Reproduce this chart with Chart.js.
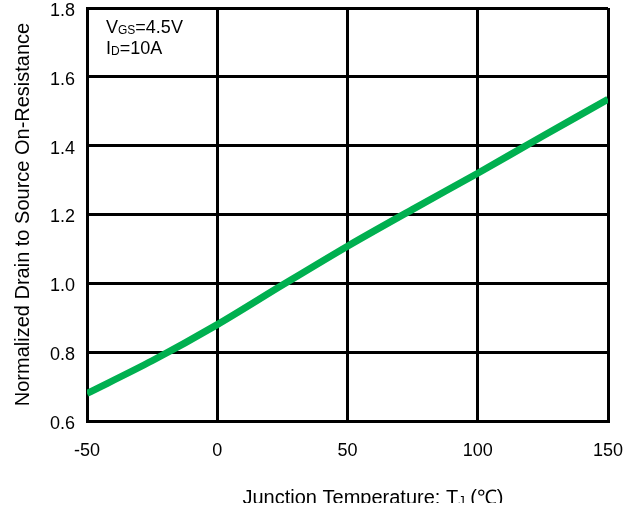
<!DOCTYPE html>
<html>
<head>
<meta charset="utf-8">
<script src="https://cdn.jsdelivr.net/npm/chart.js@4"></script>
<style>
  html, body { margin: 0; padding: 0; background: #fff; }
  canvas { display: block; }
</style>
</head>
<body>
<canvas id="chart" width="637" height="508"></canvas>
<script>
// junction temperature (°C) and normalized Rds(on)
const temps = [-50, -25, 0, 25, 50, 75, 100, 125, 150];
const rdsOn = [0.68, 0.775, 0.88, 0.995, 1.108, 1.215, 1.32, 1.428, 1.535];
const xTicks = [-50, 0, 50, 100, 150];
const yTicks = [0.6, 0.8, 1.0, 1.2, 1.4, 1.6, 1.8];

const FONT = 'Arial, "Liberation Sans", sans-serif';

// helper: draw text with a subscript part
const drawSub = (ctx, parts, x, y, size, subSize) => {
  parts.forEach(p => {
    ctx.font = (p.sub ? subSize : size) + 'px ' + FONT;
    ctx.fillText(p.t, x, y + (p.sub ? 1 : 0));
    x += ctx.measureText(p.t).width;
  });
  return x;
};

const labelsPlugin = {
  id: 'labels',
  afterDraw(chart) {
    const ctx = chart.ctx;
    ctx.save();
    ctx.fillStyle = '#000';
    ctx.textBaseline = 'alphabetic';
    ctx.textAlign = 'left';
    // test conditions box
    drawSub(ctx, [{t: 'V'}, {t: 'GS', sub: true}, {t: '=4.5V'}], 106, 33, 18, 12);
    drawSub(ctx, [{t: 'I'}, {t: 'D', sub: true}, {t: '=10A'}], 106, 54, 18, 12);

    // x axis title (cut off at the bottom like the source image)
    ctx.beginPath();
    ctx.rect(0, 0, chart.width, 503);
    ctx.clip();
    const parts = [{t: 'Junction Temperature: T'}, {t: 'J', sub: true}, {t: ' (\u2103)'}];
    let w = 0;
    parts.forEach(p => {
      ctx.font = (p.sub ? 13 : 20) + 'px ' + FONT;
      w += ctx.measureText(p.t).width;
    });
    drawSub(ctx, parts, 373 - w / 2, 504, 20, 13);
    ctx.restore();
  }
};

new Chart(document.getElementById('chart'), {
  type: 'line',
  data: {
    datasets: [{
      data: temps.map((t, i) => ({x: t, y: rdsOn[i]})),
      borderColor: '#00b050',
      borderWidth: 7,
      pointRadius: 0,
      tension: 0.3,
      fill: false,
    }],
  },
  options: {
    responsive: false,
    animation: false,
    devicePixelRatio: 1,
    layout: { padding: { left: 0, top: 8, right: 29, bottom: 0 } },
    plugins: {
      legend: { display: false },
      tooltip: { enabled: false },
    },
    scales: {
      x: {
        type: 'linear',
        min: -50,
        max: 150,
        afterBuildTicks: scale => { scale.ticks = xTicks.map(v => ({value: v})); },
        afterFit: scale => {
          scale.height = 87;
          scale.paddingLeft = 0;
          scale.paddingRight = 0;
        },
        grid: { color: '#000', lineWidth: 3, drawTicks: false },
        border: { display: true, color: '#000', width: 3 },
        ticks: {
          color: '#000',
          font: { family: FONT, size: 18 },
          padding: 19,
          maxRotation: 0,
        },
      },
      y: {
        min: 0.6,
        max: 1.8,
        afterBuildTicks: scale => { scale.ticks = yTicks.map(v => ({value: v})); },
        afterFit: scale => {
          scale.width = 87;
          scale.paddingTop = 0;
          scale.paddingBottom = 0;
        },
        grid: { color: '#000', lineWidth: 3, drawTicks: false },
        border: { display: true, color: '#000', width: 3 },
        ticks: {
          color: '#000',
          font: { family: FONT, size: 18 },
          padding: 12,
          labelOffset: 3,
          callback: v => Number(v).toFixed(1),
        },
        title: {
          display: true,
          text: 'Normalized Drain to Source On-Resistance',
          color: '#000',
          font: { family: FONT, size: 20 },
          padding: { top: 11, bottom: 0 },
        },
      },
    },
  },
  plugins: [labelsPlugin],
});
</script>
</body>
</html>
